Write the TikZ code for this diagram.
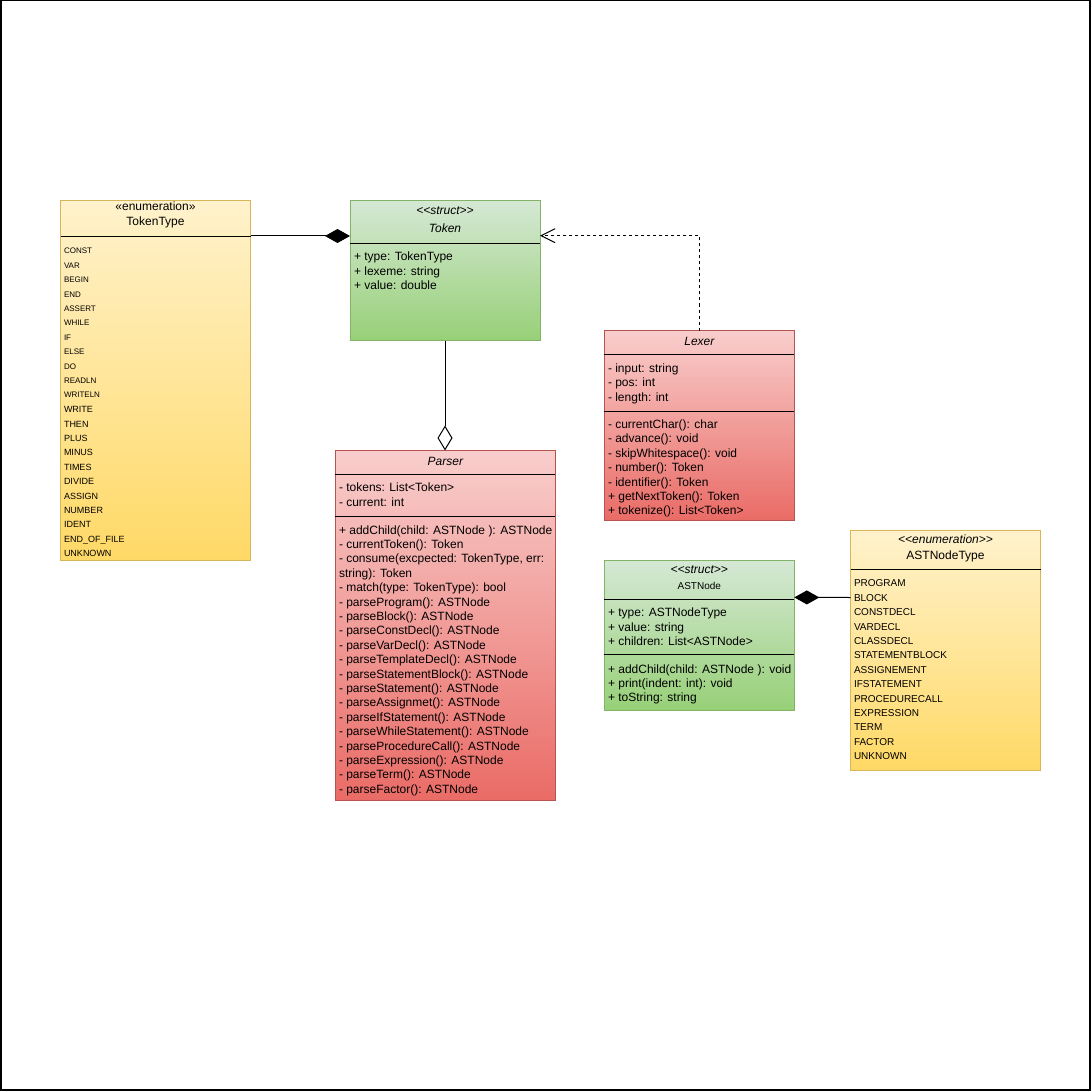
\documentclass[tikz,border=0pt]{standalone}
\usepackage{fontspec}
\setmainfont{Liberation Sans}[Ligatures=TeXOff]
\usetikzlibrary{arrows.meta}
\definecolor{yellowtop}{HTML}{FFF2CC}
\definecolor{yellowbottom}{HTML}{FFD966}
\definecolor{yellowline}{HTML}{D6B656}
\definecolor{greentop}{HTML}{D5E8D4}
\definecolor{greenbottom}{HTML}{97D077}
\definecolor{greenline}{HTML}{82B366}
\definecolor{redtop}{HTML}{F8CECC}
\definecolor{redbottom}{HTML}{EA6B66}
\definecolor{redline}{HTML}{B85450}

\begin{document}
\begin{tikzpicture}[x=1pt, y=-1pt,
	every node/.style={inner sep=0pt, outer sep=0pt, font=\fontsize{12}{14.4}\selectfont},
	classbox/.style={draw, line width=1pt},
	enumbox/.style={classbox, draw=yellowline, top color=yellowtop, bottom color=yellowbottom},
	structbox/.style={classbox, draw=greenline, top color=greentop, bottom color=greenbottom},
	redbox/.style={classbox, draw=redline, top color=redtop, bottom color=redbottom},
	member/.style={anchor=base west},
	title/.style={anchor=base},
	sep/.style={line width=1pt},
	link/.style={line width=1pt}]
	\useasboundingbox (0,0) rectangle (1092,1091);
	\draw[line width=1.5pt] (0.75,0.75) rectangle (1089.75,1089.75);

	\node[enumbox, minimum width=190pt, minimum height=360pt] (tokentype) at (155.5,380.5) {};
	\node[title] (tokentype-st) at (155.5,210.6) {«enumeration»};
	\node[title] (tokentype-name) at (155.5,226) {TokenType};
	\draw[sep] ([yshift=-35.8pt]tokentype.north west) -- ([yshift=-35.8pt]tokentype.north east);
	\foreach \m [count=\i from 0] in {CONST,VAR,BEGIN,END,ASSERT,WHILE,IF,ELSE,DO,READLN,WRITELN}
		\node[member, font=\fontsize{8}{9.6}\selectfont] (tokentype-\i) at (64,253.9+14.4*\i) {\m};
	\foreach \m [count=\i from 11] in {WRITE,THEN,PLUS,MINUS,TIMES,DIVIDE,ASSIGN,NUMBER,IDENT,END\_OF\_FILE,UNKNOWN}
		\node[member, font=\fontsize{9}{10.8}\selectfont] (tokentype-\i) at (64,254.2+14.4*\i) {\m};

	\node[structbox, minimum width=190pt, minimum height=140pt] (token) at (445,270.7) {};
	\node[title, font=\fontsize{12}{14.4}\selectfont\itshape] (token-st) at (445,214.2) {<<struct>>};
	\node[title, font=\fontsize{12}{14.4}\selectfont\itshape] (token-name) at (445,232.6) {Token};
	\draw[sep] ([yshift=-42.6pt]token.north west) -- ([yshift=-42.6pt]token.north east);
	\foreach \m [count=\i from 0] in {+ type: TokenType,+ lexeme: string,+ value: double}
		\node[member] (token-\i) at (354,260.7+14.4*\i) {\m};

	\node[redbox, minimum width=190pt, minimum height=190pt] (lexer) at (699.4,425.5) {};
	\node[title, font=\fontsize{12}{14.4}\selectfont\itshape] (lexer-name) at (699.4,345) {Lexer};
	\draw[sep] ([yshift=-23.8pt]lexer.north west) -- ([yshift=-23.8pt]lexer.north east);
	\draw[sep] ([yshift=-81pt]lexer.north west) -- ([yshift=-81pt]lexer.north east);
	\foreach \m [count=\i from 0] in {- input: string,- pos: int,- length: int}
		\node[member] (lexer-a\i) at (608,372.3+14.4*\i) {\m};
	\foreach \m [count=\i from 0] in {- currentChar(): char,- advance(): void,- skipWhitespace(): void,- number(): Token,- identifier(): Token,+ getNextToken(): Token,+ tokenize(): List<Token>}
		\node[member] (lexer-m\i) at (608,428.5+14.4*\i) {\m};

	\node[redbox, minimum width=220pt, minimum height=350pt] (parser) at (445.4,625.5) {};
	\node[title, font=\fontsize{12}{14.4}\selectfont\itshape] (parser-name) at (445.4,465) {Parser};
	\draw[sep] ([yshift=-23.8pt]parser.north west) -- ([yshift=-23.8pt]parser.north east);
	\draw[sep] ([yshift=-65.5pt]parser.north west) -- ([yshift=-65.5pt]parser.north east);
	\foreach \m [count=\i from 0] in {- tokens: List<Token>,- current: int}
		\node[member] (parser-a\i) at (339,491.7+14.4*\i) {\m};
	\foreach \m [count=\i from 0] in {+ addChild(child: ASTNode ): ASTNode,- currentToken(): Token,{- consume(excpected: TokenType, err:},string): Token,- match(type: TokenType): bool,- parseProgram(): ASTNode,- parseBlock(): ASTNode,- parseConstDecl(): ASTNode,- parseVarDecl(): ASTNode,- parseTemplateDecl(): ASTNode,- parseStatementBlock(): ASTNode,- parseStatement(): ASTNode,- parseAssignmet(): ASTNode,- parseIfStatement(): ASTNode,- parseWhileStatement(): ASTNode,- parseProcedureCall(): ASTNode,- parseExpression(): ASTNode,- parseTerm(): ASTNode,- parseFactor(): ASTNode}
		\node[member] (parser-m\i) at (339,534+14.4*\i) {\m};

	\node[structbox, minimum width=190pt, minimum height=150pt] (astnode) at (699.3,635.6) {};
	\node[title, font=\fontsize{12}{14.4}\selectfont\itshape] (astnode-st) at (699.3,573.5) {<<struct>>};
	\node[title, font=\fontsize{10}{12}\selectfont] (astnode-name) at (699.3,589.3) {ASTNode};
	\draw[sep] ([yshift=-38.6pt]astnode.north west) -- ([yshift=-38.6pt]astnode.north east);
	\draw[sep] ([yshift=-94.3pt]astnode.north west) -- ([yshift=-94.3pt]astnode.north east);
	\foreach \m [count=\i from 0] in {+ type: ASTNodeType,+ value: string,+ children: List<ASTNode>}
		\node[member] (astnode-a\i) at (608,616.7+14.4*\i) {\m};
	\foreach \m [count=\i from 0] in {+ addChild(child: ASTNode ): void,+ print(indent: int): void,+ toString: string}
		\node[member] (astnode-m\i) at (608,673+14.4*\i) {\m};

	\node[enumbox, minimum width=190pt, minimum height=240pt] (astnodetype) at (945.5,650.5) {};
	\node[title, font=\fontsize{12}{14.4}\selectfont\itshape] (astnodetype-st) at (945.5,543.5) {<<enumeration>>};
	\node[title] (astnodetype-name) at (945.5,559.3) {ASTNodeType};
	\draw[sep] ([yshift=-38.8pt]astnodetype.north west) -- ([yshift=-38.8pt]astnodetype.north east);
	\foreach \m [count=\i from 0] in {PROGRAM,BLOCK,CONSTDECL,VARDECL,CLASSDECL,STATEMENTBLOCK,ASSIGNEMENT,IFSTATEMENT,PROCEDURECALL,EXPRESSION,TERM,FACTOR,UNKNOWN}
		\node[member, font=\fontsize{10}{12}\selectfont] (astnodetype-\i) at (854,586.9+14.4*\i) {\m};

	\draw[link, -{Diamond[length=25pt,width=14pt]}] ([yshift=-35.5pt]tokentype.north east) -- ([yshift=-35.3pt]token.north west);
	\draw[link, dash pattern=on 3pt off 3pt, -{Straight Barb[length=14pt,width=14pt]}] (lexer.north) |- ([yshift=-35pt]token.north east);
	\draw[link, -{Diamond[open,length=25pt,width=15pt]}] (token.south) -- (token.south |- parser.north);
	\draw[link, -{Diamond[length=25pt,width=14pt]}] ([yshift=-67pt]astnodetype.north west) -- ([yshift=-36.8pt]astnode.north east);
\end{tikzpicture}
\end{document}
